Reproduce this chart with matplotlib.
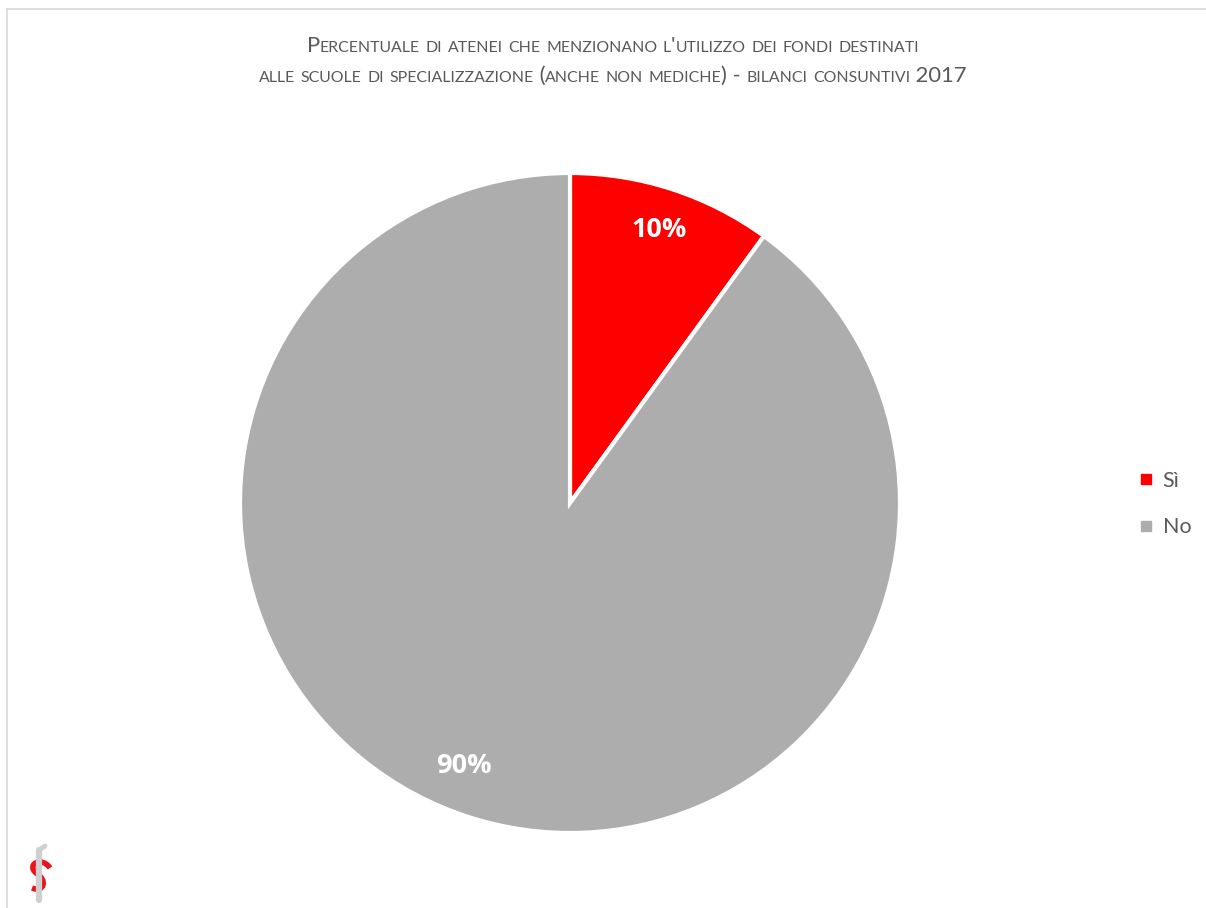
import matplotlib
matplotlib.use('Agg')
import numpy as np
import matplotlib.pyplot as plt
from matplotlib.lines import Line2D
from matplotlib.offsetbox import TextArea, HPacker, VPacker, AnchoredOffsetbox
from matplotlib.path import Path
from matplotlib.patches import PathPatch

plt.rcParams['font.family'] = ['Lato', 'DejaVu Sans']

labels = ['Sì', 'No']
values = [10, 90]
colors = ['#FF0000', '#ADADAD']
title_lines = ["Percentuale di atenei che menzionano l'utilizzo dei fondi destinati",
               "alle scuole di specializzazione (anche non mediche) - bilanci consuntivi 2017"]

W, H = 1206, 908
fig = plt.figure(figsize=(W / 100, H / 100), dpi=100)
bg = fig.add_axes([0, 0, 1, 1])
bg.set_xlim(0, W)
bg.set_ylim(H, 0)
bg.axis('off')

# chart border (top and left edges)
bg.plot([7, W], [9, 9], color='#D9D9D9', lw=1.2)
bg.plot([7, 7], [9, H], color='#D9D9D9', lw=1.2)


def small_caps(text, big=15.8, small=11.4, color='#595959'):
    runs = []
    for ch in text:
        is_small = ch.islower()
        if runs and runs[-1][1] == is_small:
            runs[-1][0] += ch
        else:
            runs.append([ch, is_small])
    boxes = [TextArea(s.upper(), textprops=dict(fontsize=small if low else big, color=color))
             for s, low in runs]
    return HPacker(children=boxes, align='baseline', pad=0, sep=0)


title_box = VPacker(children=[small_caps(t) for t in title_lines], align='center', pad=0, sep=7)
anchored = AnchoredOffsetbox(loc='center', child=title_box, pad=0, borderpad=0, frameon=False,
                             bbox_to_anchor=(613 / W, 1 - 61 / H), bbox_transform=fig.transFigure)
bg.add_artist(anchored)

# pie
cx, cy, R = 570, 503, 330
ax = fig.add_axes([(cx - R) / W, (H - cy - R) / H, 2 * R / W, 2 * R / H])
wedges, texts, autotexts = ax.pie(values, colors=colors, startangle=90, counterclock=False,
                                  autopct='%d%%', pctdistance=0.87,
                                  wedgeprops=dict(edgecolor='white', linewidth=3))
for t in autotexts:
    t.set_color('white')
    t.set_fontsize(19.5)
    t.set_fontfamily(['Open Sans', 'DejaVu Sans'])
    t.set_fontweight('bold')
# the big slice label sits a little further round, away from the vertical
ang = np.deg2rad(-112)
autotexts[1].set_position((0.86 * np.cos(ang), 0.86 * np.sin(ang)))
ax.set_xlim(-1, 1)
ax.set_ylim(-1, 1)
ax.set_aspect('equal')

handles = [Line2D([], [], marker='s', linestyle='none', markersize=6.5, color=c) for c in colors]
leg = fig.legend(handles, labels, loc='center left', bbox_to_anchor=(1140 / W, 1 - 504 / H),
                 frameon=False, fontsize=15.5, handlelength=0.6, handletextpad=0.45,
                 labelspacing=1.25, borderpad=0, borderaxespad=0)
for t in leg.get_texts():
    t.set_color('#595959')

# small logo in the bottom-left corner
bg.plot([39, 39], [850, 900], color='#CFCFCF', lw=4.5, solid_capstyle='round')
bg.plot([39, 45], [850, 846], color='#CFCFCF', lw=3.5, solid_capstyle='round')
verts = [(50, 868), (42, 856), (26, 864), (36, 873), (48, 880), (44, 893), (32, 888)]
codes = [Path.MOVETO, Path.CURVE4, Path.CURVE4, Path.CURVE4, Path.CURVE4, Path.CURVE4, Path.CURVE4]
bg.add_patch(PathPatch(Path(verts, codes), fill=False, edgecolor='#E8141C', lw=4))

fig.savefig('out.png', dpi=100)
